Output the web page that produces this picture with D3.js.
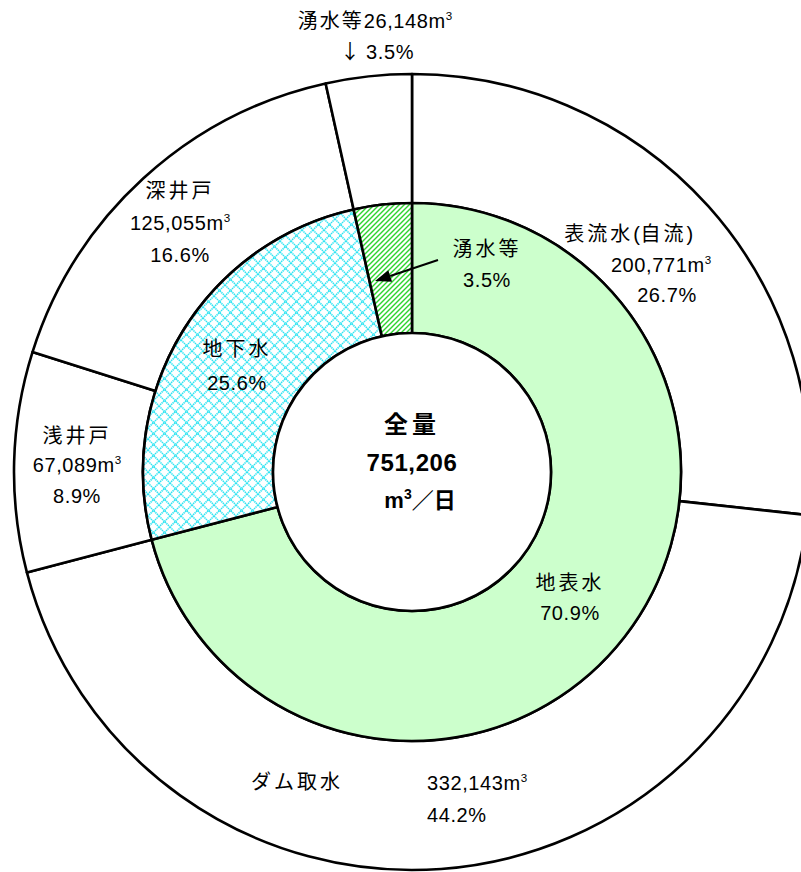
<!DOCTYPE html>
<html><head><meta charset="utf-8">
<script src="https://cdn.jsdelivr.net/npm/d3@7"></script>
<style>
body{margin:0;background:#fff}
text{font-family:"Liberation Sans","Noto Sans CJK JP",sans-serif;fill:#000}
.cjk{font-family:"Noto Sans CJK JP",sans-serif}
</style>
</head><body>
<svg id="chart" width="801" height="872"></svg>
<script>
// ---- data ----
const innerCategories = ["地表水", "地下水", "湧水等"];
const innerValues = [532914, 192144, 26148];
const innerPercents = ["70.9%", "25.6%", "3.5%"];

const outerCategories = ["表流水(自流)", "ダム取水", "浅井戸", "深井戸", "湧水等"];
const outerValues = [200771, 332143, 67089, 125055, 26148];
const outerPercents = ["26.7%", "44.2%", "8.9%", "16.6%", "3.5%"];

const totalTitle = "全量";
const totalValue = 751206;
const totalUnit = "／日";

// ---- layout ----
const cx = 412, cy = 472;
const rHole = 139, rMid = 269, rOut = 398;

const svg = d3.select("#chart");
const defs = svg.append("defs");

// cyan lattice for 地下水
const p1 = defs.append("pattern").attr("id", "lattice").attr("patternUnits", "userSpaceOnUse")
  .attr("width", 11).attr("height", 11);
p1.append("rect").attr("width", 11).attr("height", 11).attr("fill", "#fff");
p1.append("path").attr("d", "M0,0L11,11M11,0L0,11M-1,10L1,12M10,-1L12,1")
  .attr("stroke", "#2fe4f2").attr("stroke-width", 1.6).attr("stroke-dasharray", "1.4,0.7");

// green stripes for 湧水等
const p2 = defs.append("pattern").attr("id", "stripes").attr("patternUnits", "userSpaceOnUse")
  .attr("width", 5).attr("height", 5);
p2.append("rect").attr("width", 5).attr("height", 5).attr("fill", "#fff");
p2.append("path").attr("d", "M0,5L5,0M-1,1L1,-1M4,6L6,4")
  .attr("stroke", "#2ed42e").attr("stroke-width", 1.4);

const innerFills = ["#ccffcc", "url(#lattice)", "url(#stripes)"];

const pie = d3.pie().sort(null).value(d => d);
const g = svg.append("g").attr("transform", `translate(${cx},${cy})`);

const arcOuter = d3.arc().innerRadius(rMid).outerRadius(rOut);
const arcInner = d3.arc().innerRadius(rHole).outerRadius(rMid);

g.selectAll("path.outer").data(pie(outerValues)).join("path")
  .attr("class", "outer").attr("d", arcOuter)
  .attr("fill", "#fff").attr("stroke", "#000").attr("stroke-width", 2.6).attr("stroke-linejoin", "round");

g.selectAll("path.inner").data(pie(innerValues)).join("path")
  .attr("class", "inner").attr("d", arcInner)
  .attr("fill", (d, i) => innerFills[i]).attr("stroke", "#000").attr("stroke-width", 2.6).attr("stroke-linejoin", "round");

g.append("circle").attr("r", rHole).attr("fill", "#fff").attr("stroke", "#000").attr("stroke-width", 2.6);

// ---- text helpers ----
const fmt = d3.format(",");
const isCJK = ch => /[\u2190-\u21ff\u3000-\u9fff\uff00-\uffef]/.test(ch);

function addRuns(t, str, cjkSpacing) {
  let runs = [];
  for (const ch of str) {
    const c = isCJK(ch);
    if (runs.length && runs[runs.length - 1].c === c) runs[runs.length - 1].s += ch;
    else runs.push({c, s: ch});
  }
  runs.forEach(r => {
    const ts = t.append("tspan").text(r.s).style("letter-spacing", r.c ? cjkSpacing + "px" : "0.6px");
    if (r.c) ts.attr("class", "cjk");
  });
}
function label(x, y, str, opts = {}) {
  const size = opts.size || 20;
  const t = svg.append("text").attr("x", x).attr("y", y)
    .attr("text-anchor", opts.anchor || "middle")
    .attr("font-size", size)
    .attr("font-weight", opts.bold ? "bold" : "normal");
  addRuns(t, str, opts.sp == null ? 3 : opts.sp);
  if (opts.sup) {
    t.append("tspan").text("m").style("letter-spacing", "0.6px");
    t.append("tspan").text("3").attr("font-size", size * 0.58).attr("dy", -size * 0.42);
  }
  return t;
}

// outer labels
label(629, 241, outerCategories[0]);
label(661, 272, fmt(outerValues[0]), {sup: true});
label(667, 302, outerPercents[0]);

label(297, 789, outerCategories[1]);
label(427, 790, fmt(outerValues[1]), {sup: true, anchor: "start"});
label(427, 822, outerPercents[1], {anchor: "start"});

label(77, 443, outerCategories[2]);
label(77, 472, fmt(outerValues[2]), {sup: true});
label(77, 503, outerPercents[2]);

label(180, 198, outerCategories[3]);
label(180, 230, fmt(outerValues[3]), {sup: true});
label(180, 262, outerPercents[3]);

label(375, 28, outerCategories[4] + fmt(outerValues[4]), {sup: true, sp: 2});
label(377, 59, "↓ " + outerPercents[4], {sp: 0});

// inner labels
label(570, 590, innerCategories[0]);
label(570, 620, innerPercents[0]);
label(237, 356, innerCategories[1]);
label(237, 390, innerPercents[1]);
label(487, 256, innerCategories[2]);
label(487, 287, innerPercents[2]);

// arrow for inner 湧水等
const ax1 = 438, ay1 = 260, ax2 = 375, ay2 = 281;
const ang = Math.atan2(ay2 - ay1, ax2 - ax1);
const hl = 16, hw = 6;
const bx = ax2 - hl * Math.cos(ang), by = ay2 - hl * Math.sin(ang);
svg.append("line").attr("x1", ax1).attr("y1", ay1).attr("x2", bx).attr("y2", by)
  .attr("stroke", "#000").attr("stroke-width", 2);
svg.append("path").attr("d",
  `M${ax2},${ay2}L${bx + hw * Math.sin(ang)},${by - hw * Math.cos(ang)}L${bx - hw * Math.sin(ang)},${by + hw * Math.cos(ang)}Z`)
  .attr("fill", "#000");

// center labels
label(412, 433, totalTitle, {size: 24, bold: true, sp: 4});
label(412, 471, fmt(totalValue), {size: 24, bold: true});
const tu = svg.append("text").attr("x", 420).attr("y", 508).attr("text-anchor", "middle")
  .attr("font-size", 22).attr("font-weight", "bold");
tu.append("tspan").text("m");
tu.append("tspan").text("3").attr("font-size", 14).attr("dy", -9);
tu.append("tspan").text(totalUnit).attr("class", "cjk").attr("dy", 9);
</script>
</body></html>
